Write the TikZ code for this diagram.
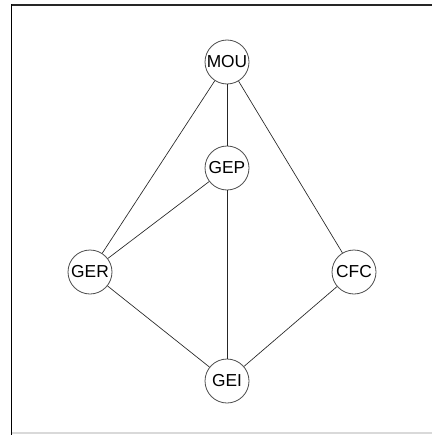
\documentclass[tikz,border=0pt]{standalone}
\usepackage{fontspec}
\setmainfont{Liberation Sans}
\begin{document}
\begin{tikzpicture}[x=0.75pt,y=-0.75pt,
  vertex/.style={circle,draw=black!70,fill=white,line width=0.6pt,minimum size=33pt,inner sep=0pt,font=\fontsize{13}{14}\selectfont},
  link/.style={draw=black!85,line width=0.5pt}]
  \useasboundingbox (0,0) rectangle (432,435);
  % frame
  \draw[black!15,line width=0.8pt] (11,433) -- (432,433);
  \draw[black!85,line width=1.1pt] (11,5) -- (432,5);
  \draw[black,line width=1.3pt] (11.5,4.5) -- (11.5,435);
  % vertices
  \node[vertex] (MOU) at (227,62) {MOU};
  \node[vertex] (GEP) at (227,168) {GEP};
  \node[vertex] (GER) at (90,272) {GER};
  \node[vertex] (CFC) at (354,272) {CFC};
  \node[vertex] (GEI) at (227,381) {GEI};
  % edges
  \draw[link] (MOU) -- (GEP);
  \draw[link] (MOU) -- (GER);
  \draw[link] (MOU) -- (CFC);
  \draw[link] (GEP) -- (GER);
  \draw[link] (GEP) -- (GEI);
  \draw[link] (GER) -- (GEI);
  \draw[link] (CFC) -- (GEI);
\end{tikzpicture}
\end{document}
